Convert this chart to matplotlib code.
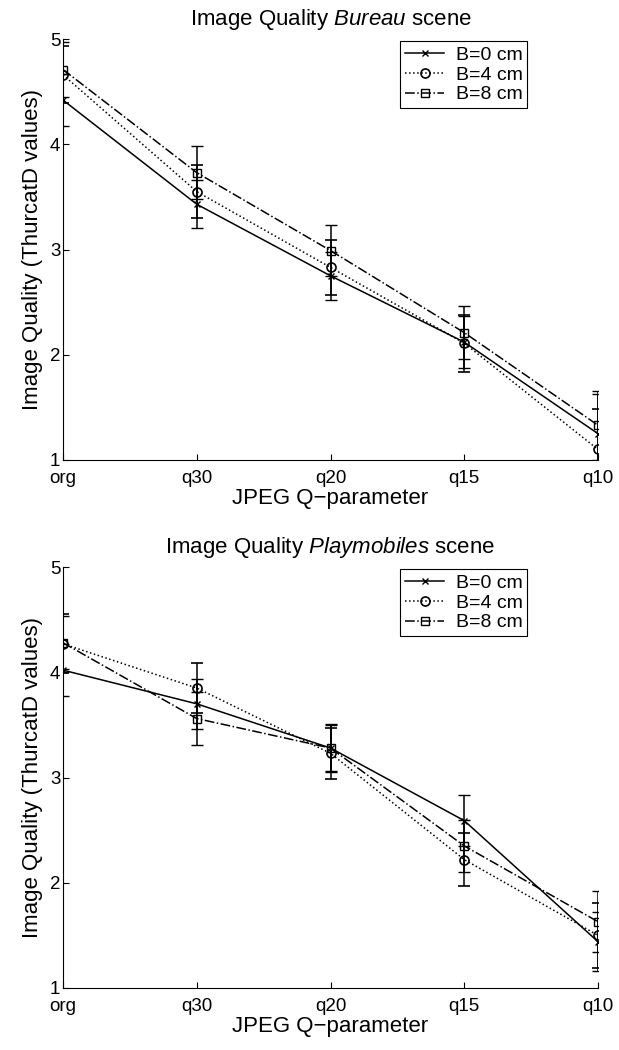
import matplotlib
matplotlib.use("Agg")
import matplotlib.pyplot as plt
import numpy as np

plt.rcParams['font.family'] = ['Liberation Sans', 'DejaVu Sans']
plt.rcParams['mathtext.fontset'] = 'custom'
plt.rcParams['mathtext.rm'] = 'Liberation Sans'
plt.rcParams['mathtext.it'] = 'Liberation Sans:italic'

categories = ['org', 'q30', 'q20', 'q15', 'q10']
series_labels = ['B=0 cm', 'B=4 cm', 'B=8 cm']

bureau_b0 = [4.42, 3.43, 2.75, 2.12, 1.25]
bureau_b4 = [4.66, 3.55, 2.83, 2.11, 1.10]
bureau_b8 = [4.71, 3.73, 2.99, 2.21, 1.33]
bureau_b0_err = [0.25, 0.23, 0.23, 0.25, 0.38]
bureau_b4_err = [0.27, 0.25, 0.26, 0.27, 0.38]
bureau_b8_err = [0.26, 0.25, 0.24, 0.25, 0.33]

playmo_b0 = [4.02, 3.70, 3.28, 2.59, 1.44]
playmo_b4 = [4.27, 3.85, 3.23, 2.22, 1.50]
playmo_b8 = [4.28, 3.56, 3.28, 2.35, 1.63]
playmo_b0_err = [0.25, 0.24, 0.23, 0.24, 0.28]
playmo_b4_err = [0.28, 0.24, 0.24, 0.25, 0.31]
playmo_b8_err = [0.25, 0.25, 0.22, 0.25, 0.29]

styles = [dict(ls='-', marker='x', ms=5, mew=1.0),
          dict(ls=':', marker='o', ms=6.5, mew=1.2, mfc='none'),
          dict(ls='-.', marker='s', ms=5.5, mew=1.0, mfc='none')]

fig = plt.figure(figsize=(6.19, 10.5), dpi=100)
ax1 = fig.add_axes([63/619, 1 - 460/1050, 535/619, 421/1050])
ax2 = fig.add_axes([63/619, 1 - 988/1050, 535/619, 421/1050])

def draw(ax, vals, errs, title):
    x = np.arange(len(categories))
    handles = []
    for v, e, st, lab in zip(vals, errs, styles, series_labels):
        eb = ax.errorbar(x, v, yerr=e, color='black', lw=1.1, elinewidth=1.1,
                         capsize=4, capthick=1.1, label=lab, **st)
        handles.append(eb[0])
    ax.set_xlim(0, 4)
    ax.set_ylim(1, 5)
    ax.set_xticks(x)
    ax.set_xticklabels(categories)
    ax.set_yticks([1, 2, 3, 4, 5])
    ax.tick_params(direction='in', length=4, width=0.8, labelsize=13.5)
    ax.tick_params(axis='x', pad=7)
    ax.tick_params(axis='y', pad=2)
    for s in ['top', 'right']:
        ax.spines[s].set_visible(False)
    for s in ['left', 'bottom']:
        ax.spines[s].set_linewidth(0.8)
    ax.set_title(title, fontsize=16, pad=10)
    ax.set_xlabel('JPEG Q\u2212parameter', fontsize=16, labelpad=1)
    ax.set_ylabel('Image Quality (ThurcatD values)', fontsize=16, labelpad=5)
    leg = ax.legend(handles, series_labels, loc='upper right',
                    bbox_to_anchor=(0.868, 0.995), borderaxespad=0,
                    fancybox=False, edgecolor='black', framealpha=1,
                    fontsize=14, handlelength=2.0, handletextpad=0.6,
                    labelspacing=0.12, borderpad=0.25)
    leg.get_frame().set_linewidth(0.8)

draw(ax1, [bureau_b0, bureau_b4, bureau_b8],
     [bureau_b0_err, bureau_b4_err, bureau_b8_err],
     r'Image Quality $\it{Bureau}$ scene')
draw(ax2, [playmo_b0, playmo_b4, playmo_b8],
     [playmo_b0_err, playmo_b4_err, playmo_b8_err],
     r'Image Quality $\it{Playmobiles}$ scene')

fig.savefig('out.png', dpi=100)
